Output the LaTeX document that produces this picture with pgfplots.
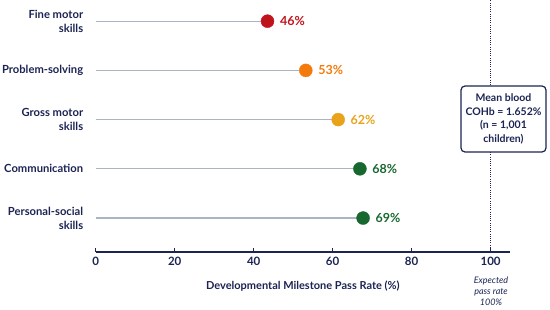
\documentclass[border=0pt]{standalone}
\usepackage{pgfplots}
\pgfplotsset{compat=1.18}
\usepackage{fontspec}
\setmainfont{Lato}
\definecolor{navy}{HTML}{1C2453}
\definecolor{stem}{HTML}{A9B4C6}
\definecolor{cred}{HTML}{C0141C}
\definecolor{corange}{HTML}{F47A0C}
\definecolor{camber}{HTML}{E9A31B}
\definecolor{cgreen}{HTML}{17682F}
\begin{document}
\begin{tikzpicture}
\path[use as bounding box] (0pt,0pt) rectangle (550pt,309pt);
\begin{axis}[
  at={(95.7pt,57pt)}, anchor=south west, scale only axis,
  width=414.3pt, height=252pt,
  xmin=0, xmax=104.9, ymin=0.31, ymax=5.43,
  axis x line=bottom, axis y line=left,
  x axis line style={-, navy, line width=1.6pt},
  y axis line style={draw=none},
  xtick={0,20,...,100}, ytick={1,2,3,4,5},
  yticklabels={{Personal-social\\skills},Communication,{Gross motor\\skills},Problem-solving,{Fine motor\\skills}},
  yticklabel style={align=right, font=\bfseries\fontsize{11.2}{14}\selectfont, text=navy, xshift=-9pt},
  ytick style={draw=none},
  xtick style={navy, line width=1.2pt},
  tick align=inside, major tick length=4pt,
  /pgf/number format/assume math mode=true,
  xticklabel style={font=\bfseries\fontsize{11.5}{12}\selectfont, text=navy, yshift=-2pt},
  xlabel={Developmental Milestone Pass Rate (\%)},
  xlabel style={font=\bfseries\fontsize{11}{12}\selectfont, text=navy, yshift=-8pt},
  clip=false,
  every node near coord/.append style={anchor=west, xshift=9pt, font=\bfseries\fontsize{12.5}{13}\selectfont},
]
\addplot[navy, line width=1pt, dash pattern=on 0.9pt off 1.3pt] coordinates {(100,0.31) (100,5.43)};
\addplot[xcomb, stem, line width=1.3pt] coordinates {(43.5,5) (53.2,4) (61.4,3) (66.9,2) (67.7,1)};
\addplot[only marks, mark=*, mark size=6.5pt, cred, nodes near coords={46\%}] coordinates {(43.5,5)};
\addplot[only marks, mark=*, mark size=6.5pt, corange, nodes near coords={53\%}] coordinates {(53.2,4)};
\addplot[only marks, mark=*, mark size=6.5pt, camber, nodes near coords={62\%}] coordinates {(61.4,3)};
\addplot[only marks, mark=*, mark size=6.5pt, cgreen, nodes near coords={68\%}] coordinates {(66.9,2)};
\addplot[only marks, mark=*, mark size=6.5pt, cgreen, nodes near coords={69\%}] coordinates {(67.7,1)};
\end{axis}
\node[draw=navy, fill=white, rounded corners=4pt, line width=1.2pt, align=center,
  font=\bfseries\fontsize{10.5}{13.6}\selectfont, text=navy, minimum width=85pt, minimum height=66pt, inner sep=2pt]
  at (503.5pt,190pt) {Mean blood\\COHb = 1.652\%\\(n = 1,001\\children)};
\node[align=center, font=\itshape\fontsize{9}{11}\selectfont, text=navy] at (491pt,18pt) {Expected\\pass rate\\100\%};
\end{tikzpicture}
\end{document}
